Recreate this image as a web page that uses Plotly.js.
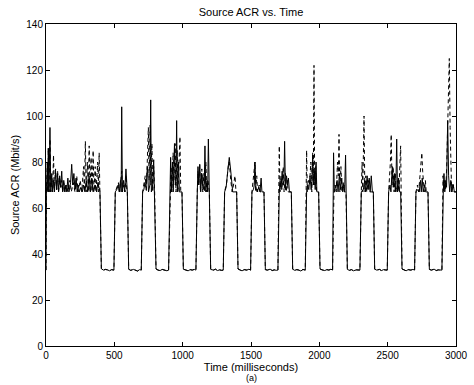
<!DOCTYPE html>
<html>
<head>
<meta charset="utf-8">
<script src="https://cdn.plot.ly/plotly-3.0.1.min.js"></script>
<style>
html,body{margin:0;padding:0;background:#fff;}
#chart{width:474px;height:385px;}
</style>
</head>
<body>
<div id="chart"></div>
<script>
// Time axis ticks
const xTicks = [0, 500, 1000, 1500, 2000, 2500, 3000];
const yTicks = [0, 20, 40, 60, 80, 100, 120, 140];

// Low (≈33 Mbit/s) phases, shared by both curves
const lowTime = [
  405,420,435,450,465,480,497,
  605,620,640,655,670,685,697,
  805,820,835,850,870,885,897,
  1005,1020,1040,1055,1070,1085,1097,
  1205,1225,1240,1255,1270,1285,1297,
  1405,1420,1435,1450,1470,1485,1497,
  1605,1620,1640,1655,1670,1685,1697,
  1805,1820,1835,1850,1865,1880,1897,
  2005,2020,2040,2055,2070,2085,2097,
  2205,2220,2235,2250,2270,2285,2297,
  2405,2420,2440,2455,2470,2485,2497,
  2605,2620,2635,2650,2670,2685,2697,
  2805,2820,2840,2855,2870,2885,2897
];
const lowAcr = [
  33.6,33.0,33.3,33.1,32.7,33.2,33.0,
  33.4,32.9,33.3,33.0,32.6,33.2,33.0,
  33.5,33.0,32.8,33.3,33.1,32.7,33.0,
  33.4,33.1,32.7,33.2,33.0,33.3,33.0,
  33.3,33.0,33.4,32.8,33.1,32.9,33.0,
  33.5,33.0,32.7,33.2,33.0,33.4,33.0,
  33.2,33.0,33.4,32.8,33.1,32.9,33.0,
  33.4,32.9,33.2,33.0,32.6,33.3,33.0,
  33.5,33.1,32.8,33.2,33.0,33.4,33.0,
  33.3,32.9,33.2,32.7,33.1,33.0,33.0,
  33.4,33.0,33.3,32.8,33.2,33.0,33.0,
  33.5,33.1,32.7,33.2,33.0,33.3,33.0,
  33.3,33.0,33.4,32.8,33.1,32.9,33.0
];

// Solid curve, high phases
const solidTime = [
  0,3,10,14,17,22,29,35,42,48,55,62,70,78,85,92,100,108,115,122,130,138,145,152,160,168,180,188,196,204,212,220,228,236,244,255,265,275,285,295,305,315,325,335,345,360,370,380,395,
  507,518,528,536,545,550,554,559,568,576,585,590,595,
  707,716,724,732,742,750,760,766,771,780,788,793,795,
  907,912,917,925,931,940,946,951,956,961,970,976,995,
  1107,1112,1118,1125,1132,1140,1150,1158,1163,1169,1178,1183,1188,1193,1195,
  1307,1318,1328,1341,1352,1360,1366,1395,
  1507,1518,1524,1529,1535,1545,1558,1566,1574,1580,1595,
  1707,1713,1720,1728,1735,1741,1746,1752,1760,1767,1774,1781,1795,
  1907,1915,1923,1932,1940,1946,1951,1957,1964,1970,1976,1982,1995,
  2104,2110,2120,2130,2137,2147,2154,2164,2171,2180,2185,2192,
  2307,2322,2332,2339,2350,2357,2365,2372,2380,2388,2395,
  2507,2517,2524,2534,2541,2549,2556,2561,2566,2572,2580,2587,2595,
  2707,2720,2731,2740,2746,2753,2760,2770,2778,2795,
  2907,2912,2918,2925,2931,2939,2946,2954,2962,2970,2980,2988,3000
];
const solidAcr = [
  33,67,80,67,86,67,95,67,75,67,72,67,76,68,75,67,74,69,76,67,72,67,70,67,73,67,71,79,70,75,68,73,67,70,67,69,67,70,67,72,67,74,67,73,67,70,67,71,67,
  67,68,70,67,72,67,104,67,72,67,77,67,67,
  67,68,71,69,78,67,70,107,67,70,81,67,67,
  67,82,67,80,67,88,70,72,98,67,80,67,67,
  67,78,70,79,67,75,68,70,87,67,72,67,90,67,67,
  67,69,75,82,76,69,67,67,
  67,68,70,80,69,67,69,67,73,67,67,
  67,72,68,76,70,72,89,68,74,70,73,67,67,
  67,70,68,74,68,71,83,70,76,68,80,67,67,
  84,67,68,72,67,75,68,73,67,70,67,83,
  67,68,72,67,74,68,73,67,74,67,67,
  67,70,67,78,69,75,67,72,90,67,73,67,67,
  67,68,67,72,67,73,67,70,67,67,
  67,75,67,72,69,98,74,67,72,67,70,67,67
];

// Dashed curve, high phases
const dashedTime = [
  0,3,10,14,17,22,29,35,42,48,55,61,70,78,85,92,100,108,115,122,130,138,150,160,175,185,200,212,225,235,250,262,275,281,288,294,303,309,316,322,330,337,345,351,360,366,378,383,389,395,
  507,520,530,538,547,554,559,570,578,586,592,595,
  707,716,726,734,742,749,754,762,767,775,781,788,795,
  907,915,921,930,936,945,951,960,966,974,980,986,995,
  1107,1112,1117,1124,1130,1140,1147,1155,1160,1170,1176,1185,1195,
  1307,1322,1335,1341,1352,1362,1372,1383,1390,1395,
  1507,1516,1524,1529,1534,1542,1548,1560,1568,1595,
  1707,1712,1720,1727,1736,1742,1752,1758,1766,1772,1795,
  1907,1912,1920,1928,1938,1945,1951,1956,1961,1966,1973,1980,1995,
  2107,2116,2124,2133,2139,2144,2150,2158,2165,2175,2183,2195,
  2307,2313,2318,2322,2327,2333,2340,2347,2358,2366,2395,
  2507,2514,2520,2526,2532,2540,2547,2556,2563,2575,2582,2590,2595,
  2707,2718,2727,2738,2744,2750,2756,2762,2768,2776,2782,2795,
  2905,2911,2918,2925,2932,2938,2944,2951,2957,2962,2968,2978,2986,3000
];
const dashedAcr = [
  33,67,80,67,86,67,90,67,72,67,83,67,77,68,76,67,73,69,72,67,71,67,70,67,72,67,71,67,74,67,72,67,78,67,89,67,80,67,87,67,82,67,85,67,78,67,80,67,84,67,
  67,69,71,67,74,76,67,70,67,74,67,67,
  67,70,74,67,85,95,72,96,70,88,67,78,67,
  67,78,67,84,72,88,67,85,67,80,91,67,67,
  67,76,70,79,67,77,67,75,67,80,67,72,67,
  67,71,79,80,72,67,70,74,67,67,
  67,72,78,80,67,74,67,70,67,67,
  87,67,74,68,78,67,75,67,72,67,67,
  85,67,72,70,80,67,84,72,122,70,78,67,67,
  67,70,67,80,74,92,67,78,67,71,67,67,
  67,80,67,85,100,67,74,67,72,67,67,
  67,72,80,92,70,78,67,75,67,72,67,80,87,
  67,70,67,75,80,84,76,70,67,72,67,67,
  74,67,72,68,78,90,105,125,95,75,67,71,67,67
];

function merge(tA, vA, tB, vB) {
  const pts = [];
  for (let i = 0; i < tA.length; i++) pts.push([tA[i], vA[i]]);
  for (let i = 0; i < tB.length; i++) pts.push([tB[i], vB[i]]);
  pts.sort((a, b) => a[0] - b[0]);
  return {x: pts.map(p => p[0]), y: pts.map(p => p[1])};
}

const s = merge(solidTime, solidAcr, lowTime, lowAcr);
const d = merge(dashedTime, dashedAcr, lowTime, lowAcr);

const FONT = 'Liberation Sans, Arial, Helvetica, sans-serif';

const traces = [
  {x: s.x, y: s.y, type: 'scatter', mode: 'lines', line: {color: '#000', width: 1}, hoverinfo: 'skip'},
  {x: d.x, y: d.y, type: 'scatter', mode: 'lines', line: {color: '#000', width: 1, dash: '4px,3px'}, hoverinfo: 'skip'}
];

const axisCommon = {
  showline: true, linecolor: '#000', linewidth: 1, mirror: 'ticks',
  ticks: 'inside', ticklen: 4, tickwidth: 1, tickcolor: '#000',
  showgrid: false, zeroline: false, automargin: false,
  tickfont: {family: FONT, size: 10, color: '#000'}
};

const layout = {
  width: 474, height: 385,
  margin: {l: 46, r: 18, t: 24, b: 39, pad: 0},
  paper_bgcolor: '#fff', plot_bgcolor: '#fff',
  showlegend: false,
  font: {family: FONT, color: '#000'},
  title: {text: 'Source ACR vs. Time', font: {family: FONT, size: 11, color: '#000'},
          x: 0.5, xref: 'paper', xanchor: 'center', y: 1 - 12/385, yref: 'container', yanchor: 'middle'},
  xaxis: Object.assign({}, axisCommon, {
    range: [0, 3000], tickmode: 'array', tickvals: xTicks, ticktext: xTicks.map(String),
    title: {text: 'Time (milliseconds)', font: {family: FONT, size: 11, color: '#000'}, standoff: 2}
  }),
  yaxis: Object.assign({}, axisCommon, {
    range: [0, 140], tickmode: 'array', tickvals: yTicks, ticktext: yTicks.map(String),
    title: {text: 'Source ACR (Mbit/s)', font: {family: FONT, size: 11, color: '#000'}, standoff: 4}
  }),
  annotations: [{text: '(a)', xref: 'paper', yref: 'paper', x: 0.5, y: -0.118, xanchor: 'center', yanchor: 'bottom',
                 showarrow: false, borderpad: 0, font: {family: FONT, size: 9, color: '#000'}}]
};

Plotly.newPlot('chart', traces, layout, {displayModeBar: false, staticPlot: true});
</script>
</body>
</html>
